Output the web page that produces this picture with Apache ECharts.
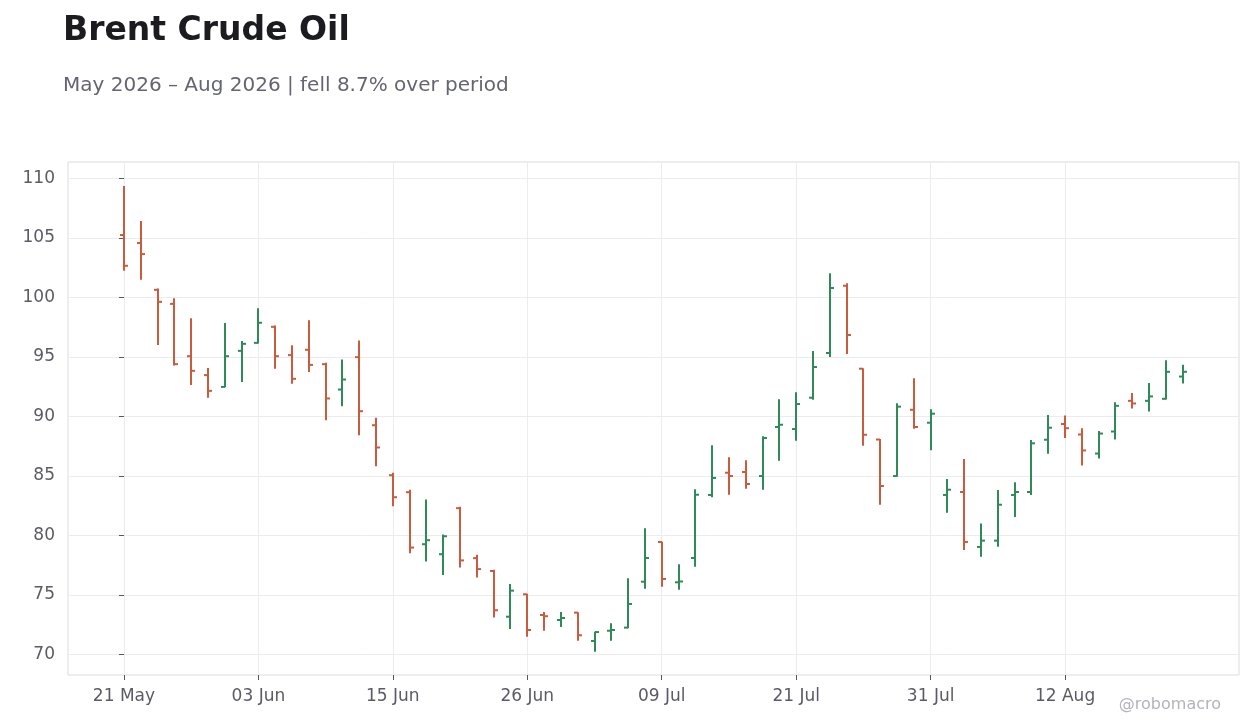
<!DOCTYPE html>
<html>
<head>
<meta charset="utf-8">
<script src="https://cdn.jsdelivr.net/npm/echarts@6/dist/echarts.min.js"></script>
<style>
html,body{margin:0;padding:0;background:#ffffff;}
#chart{width:1260px;height:728px;}
</style>
</head>
<body>
<div id="chart"></div>
<script>
const dates = [
'2026-05-21','2026-05-22','2026-05-26','2026-05-27','2026-05-28','2026-05-29','2026-06-01','2026-06-02',
'2026-06-03','2026-06-04','2026-06-05','2026-06-08','2026-06-09','2026-06-10','2026-06-11','2026-06-12',
'2026-06-15','2026-06-16','2026-06-17','2026-06-18','2026-06-22','2026-06-23','2026-06-24','2026-06-25',
'2026-06-26','2026-06-29','2026-06-30','2026-07-01','2026-07-02','2026-07-06','2026-07-07','2026-07-08',
'2026-07-09','2026-07-10','2026-07-13','2026-07-14','2026-07-15','2026-07-16','2026-07-17','2026-07-20',
'2026-07-21','2026-07-22','2026-07-23','2026-07-24','2026-07-27','2026-07-28','2026-07-29','2026-07-30',
'2026-07-31','2026-08-03','2026-08-04','2026-08-05','2026-08-06','2026-08-07','2026-08-10','2026-08-11',
'2026-08-12','2026-08-13','2026-08-14','2026-08-17','2026-08-18','2026-08-19','2026-08-20','2026-08-21'
];
const opens = [
105.23,104.56,100.63,99.45,95.05,93.46,92.47,95.50,96.17,97.52,95.14,95.59,94.38,92.25,94.97,89.25,
85.05,83.62,79.25,78.41,82.28,78.08,77.00,73.16,75.04,73.30,72.88,73.50,71.12,71.98,72.24,76.10,
79.44,76.05,78.09,83.39,85.26,85.32,84.98,89.10,88.93,91.56,95.32,100.97,94.00,88.05,84.98,90.55,
89.46,83.39,83.64,79.02,79.55,83.39,83.64,88.03,89.35,88.47,86.87,88.72,91.30,91.30,91.47,93.34
];
const highs = [
109.35,106.41,100.75,99.91,98.23,94.05,97.83,96.32,99.09,97.64,95.98,98.08,94.50,94.77,96.37,89.87,
85.25,83.82,83.00,80.06,82.40,78.36,77.10,75.90,75.09,73.55,73.55,73.53,71.90,72.60,76.39,80.59,
79.46,77.56,83.87,87.56,86.55,86.30,88.32,91.43,92.02,95.49,102.02,101.18,94.03,88.09,91.09,93.19,
90.59,84.73,86.41,81.00,83.81,84.45,88.01,90.11,90.06,89.00,88.76,91.19,91.95,92.79,94.72,94.33
];
const lows = [
102.23,101.47,96.00,94.27,92.64,91.55,92.45,92.89,96.12,93.99,92.73,93.73,89.67,90.85,88.41,85.81,
82.45,78.50,77.80,76.67,77.30,76.46,73.10,72.13,71.48,71.98,72.29,71.14,70.22,71.14,72.18,75.51,
75.68,75.43,77.36,83.19,83.41,83.92,83.83,86.27,87.95,91.40,94.98,95.24,87.53,82.57,84.92,88.96,
87.14,81.90,78.76,78.20,79.04,81.54,83.39,86.86,88.17,85.86,86.45,88.05,90.66,90.40,91.41,92.76
];
const closes = [
102.65,103.63,99.62,94.38,93.82,92.14,95.05,96.09,97.86,95.05,93.15,94.32,91.50,93.09,90.43,87.38,
83.20,78.97,79.59,79.92,77.89,77.16,73.70,75.35,72.04,73.20,73.05,71.60,71.87,72.04,74.23,78.09,
76.33,76.12,83.41,84.82,84.98,84.31,88.18,89.29,91.03,94.14,100.78,96.83,88.45,84.14,90.81,89.10,
90.22,83.83,79.44,79.55,82.57,83.64,87.73,89.04,89.00,87.13,88.55,90.88,91.08,91.67,93.74,93.74
];
const xTickIndex = [0,8,16,24,32,40,48,56];
const yTicks = [70,75,80,85,90,95,100,105,110];
const monthNames = ['Jan','Feb','Mar','Apr','May','Jun','Jul','Aug','Sep','Oct','Nov','Dec'];

const UP = '#2e8b57', DOWN = '#c95c3d';

function fmtDate(i){
  const d = dates[Math.round(i)];
  if(!d) return '';
  const p = d.split('-');
  return p[2] + ' ' + monthNames[parseInt(p[1],10)-1];
}

const seriesData = dates.map((d,i)=>[i, opens[i], highs[i], lows[i], closes[i]]);

const chart = echarts.init(document.getElementById('chart'), null, {renderer:'canvas'});
const FONT = 'DejaVu Sans';
chart.setOption({
  backgroundColor:'#ffffff',
  animation:false,
  textStyle:{fontFamily:FONT},
  graphic:[
    {type:'text', left:63, top:15, style:{text:'Brent Crude Oil', font:'bold 33px "DejaVu Sans"', fill:'#1b1b20'}},
    {type:'text', left:63, top:76, style:{text:'May 2026 – Aug 2026 | fell 8.7% over period', font:'20px "DejaVu Sans"', fill:'#656571'}},
    {type:'text', right:39, top:697, style:{text:'@robomacro', font:'16px "DejaVu Sans"', fill:'#b3b3bb'}}
  ],
  grid:{left:68, right:21, top:162, bottom:53, show:true, backgroundColor:'#ffffff', borderColor:'#dcdce0', borderWidth:1},
  xAxis:{
    type:'value', min:-3.33, max:66.35,
    axisLine:{show:false},
    axisTick:{show:true, customValues:xTickIndex, length:5, lineStyle:{color:'#55555f'}},
    axisLabel:{customValues:xTickIndex, formatter:v=>fmtDate(v), fontSize:17, color:'#5b5b66', margin:13, fontFamily:FONT},
    splitLine:{show:true, lineStyle:{color:'#ececef', width:1}}
  },
  yAxis:{
    type:'value', min:68.26, max:111.37,
    axisLine:{show:false},
    axisTick:{show:true, customValues:yTicks, length:5, lineStyle:{color:'#55555f'}},
    axisLabel:{customValues:yTicks, formatter:v=>String(Math.round(v)), fontSize:17, color:'#5b5b66', margin:13, fontFamily:FONT},
    splitLine:{show:true, lineStyle:{color:'#ececef', width:1}}
  },
  series:[{
    type:'custom',
    data:seriesData,
    encode:{x:0, y:[1,2,3,4]},
    renderItem:function(params, api){
      const i = api.value(0);
      const o = api.value(1), h = api.value(2), l = api.value(3), c = api.value(4);
      const ph = api.coord([i,h]), pl = api.coord([i,l]), po = api.coord([i,o]), pc = api.coord([i,c]);
      const x = Math.round(ph[0]);
      const col = c >= o ? UP : DOWN;
      const st = {stroke:col, lineWidth:2, lineCap:'butt'};
      return {type:'group', children:[
        {type:'line', shape:{x1:x, y1:ph[1], x2:x, y2:pl[1]}, style:st},
        {type:'line', shape:{x1:x-4, y1:po[1], x2:x, y2:po[1]}, style:st},
        {type:'line', shape:{x1:x, y1:pc[1], x2:x+4, y2:pc[1]}, style:st}
      ]};
    }
  }]
});
</script>
</body>
</html>
